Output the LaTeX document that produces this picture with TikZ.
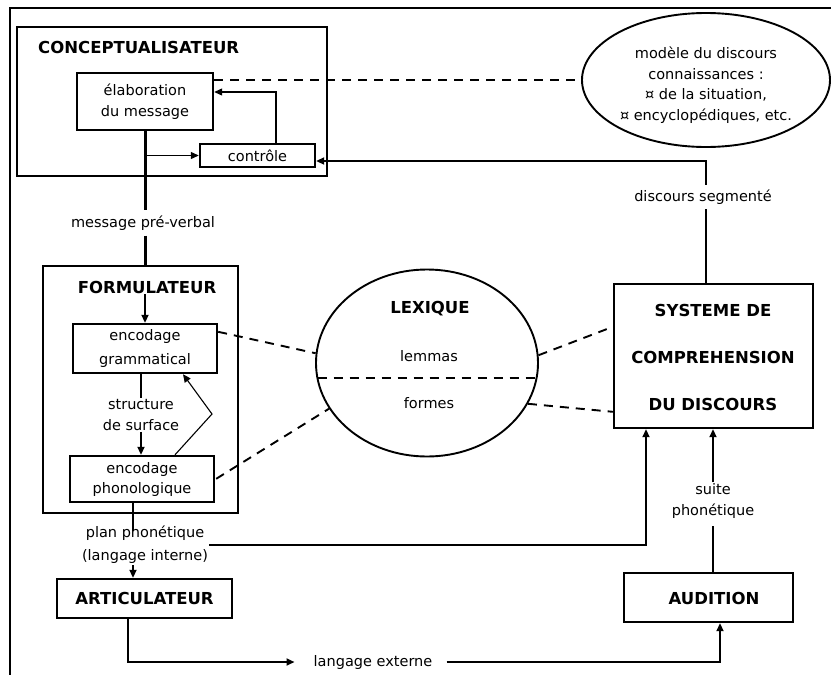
\documentclass[tikz,border=0pt]{standalone}
\usepackage{fontspec}
\setmainfont{DejaVu Sans}
\usetikzlibrary{arrows.meta,shapes.geometric,calc}
\begin{document}
\begin{tikzpicture}[x=1pt,y=-1pt,
  box/.style={draw, line width=2.4pt, rectangle, inner sep=0pt},
  txt/.style={font=\fontsize{14.5}{21}\selectfont, align=center, inner sep=1pt},
  ttl/.style={font=\bfseries\fontsize{16.5}{24}\selectfont, inner sep=1pt},
  conn/.style={line width=1.9pt},
  thinconn/.style={line width=1.1pt},
  dsh/.style={line width=1.9pt, dash pattern=on 9pt off 7pt},
  arr/.style={-{Triangle[length=8pt,width=7pt]}}]
\useasboundingbox (0,0) rectangle (831,675);
% frame
\draw[line width=1.3pt] (10,675) -- (10,8) -- (831,8);

% conceptualisateur
\node[box, minimum width=310pt, minimum height=149pt] (concept) at (172,101.5) {};
\node[ttl, anchor=west] (ctitle) at (37,47) {CONCEPTUALISATEUR};
\node[box, txt, minimum width=136pt, minimum height=57pt] (elab) at (145,101.5) {élaboration\\du message};
\node[box, txt, minimum width=115pt, minimum height=23pt] (ctrl) at (257.5,155.5) {contrôle};

% modele ellipse
\node[draw, ellipse, line width=1.9pt, minimum width=248pt, minimum height=134pt, inner sep=0pt] (ell) at (706,80) {};
\node[txt, font=\fontsize{14.5}{20.5}\selectfont] (elltxt) at (706,85) {modèle du discours\\connaissances :\\¤ de la situation,\\¤ encyclopédiques, etc.};

% formulateur
\node[box, minimum width=195pt, minimum height=247pt] (formul) at (140.5,389.5) {};
\node[ttl] (ftitle) at (147,287) {FORMULATEUR};
\node[box, txt, font=\fontsize{14.5}{24}\selectfont, minimum width=144pt, minimum height=49pt] (gram) at (145,348.5) {encodage\\grammatical};
\node[txt] (struct) at (141,415) {structure\\de surface};
\node[box, txt, font=\fontsize{14.5}{20}\selectfont, minimum width=144pt, minimum height=46pt] (phon) at (142,479) {encodage\\phonologique};

% lexique
\node[draw, ellipse, line width=1.9pt, minimum width=222pt, minimum height=187pt, inner sep=0pt] (lex) at (427,363) {};
\node[ttl] (lextitle) at (430,309) {LEXIQUE};
\node[txt] (lemmas) at (429,356) {lemmas};
\node[txt] (formes) at (429,403) {formes};
\draw[dsh] ($(lex.center)+(-109.5,15)$) -- ($(lex.center)+(109.5,15)$);

% systeme
\node[box, minimum width=199pt, minimum height=144pt] (sys) at (713.5,356) {};
\node[ttl, align=center, font=\bfseries\fontsize{16.5}{47}\selectfont] (systxt) at (713,357) {SYSTEME DE\\COMPREHENSION\\DU DISCOURS};

% articulateur, audition
\node[box, ttl, minimum width=175pt, minimum height=39pt] (artic) at (144.5,598.5) {ARTICULATEUR};
\node[box, minimum width=169pt, minimum height=49pt] (aud) at (708.5,597.5) {};
\node[ttl] (audtxt) at (714,598) {AUDITION};

% labels
\node[txt, inner ysep=5pt] (msg) at (143,223) {message pré-verbal};
\node[txt, align=center, font=\fontsize{14.5}{23}\selectfont] (plan) at (145,545) {plan phonétique\\(langage interne)};
\node[txt] (lext) at (373,662) {langage externe};
\node[txt] (suite) at (713,501) {suite\\phonétique};

% coordinates
\coordinate (cfb) at (276,92);
\coordinate (segcorner) at (706,161);
\coordinate (fb) at (212,414);
\coordinate (px) at (133,0);
\coordinate (sx) at (646,0);
\coordinate (ax) at (128,0);
\coordinate (bx) at (720,0);
\coordinate (ux) at (713,0);

% conceptualisateur connectors
\draw[line width=3pt] (elab.south) -- (msg.north -| elab.south);
\draw[line width=3pt] (msg.south -| elab.south) -- (elab.south |- formul.north);
\draw[thinconn, arr] (elab.south |- ctrl.west) -- (ctrl.west);
\draw[thinconn, arr] (ctrl.north -| cfb) -- (cfb) -- (cfb -| elab.east);
\draw[dsh] (elab.east |- ell.west) -- (ell.west);
\draw[conn, arr] (sys.north -| segcorner) -- (segcorner) -- (segcorner -| ctrl.east);
\node[txt, fill=white, inner ysep=5pt] (seg) at (703,197) {discours segmenté};

% formulateur connectors
\draw[conn, arr] (ftitle.south -| gram.north) -- (gram.north);
\draw[conn] (struct.north |- gram.south) -- (struct.north);
\draw[conn, arr] (struct.south) -- (struct.south |- phon.north);
\draw[thinconn, arr] ($(phon.north)+(33,0)$) -- (fb) -- ($(gram.south)+(38,0)$);

% lexique dashed
\draw[dsh] ($(gram.north east)+(0,9)$) -- (lex.175.8);
\draw[dsh] ($(phon.north east)+(1,24)$) -- (lex.205.4);
\draw[dsh] (lex.4) -- ($(sys.north west)+(0,44)$);
\draw[dsh] (lex.338.6) -- ($(sys.north west)+(0,129)$);

% lower connectors
\draw[conn] (phon.south -| px) -- ($(plan.north -| px)+(0,6)$);
\draw[conn, arr] (plan.south -| px) -- (artic.north -| px);
\draw[conn, arr] (plan.east) -| (sys.south -| sx);
\draw[conn, arr] (artic.south -| ax) |- ($(lext.west)+(-18,0)$);
\draw[conn, arr] ($(lext.east)+(13,0)$) -| (aud.south -| bx);
\draw[conn] (aud.north -| ux) -- ($(suite.south -| ux)+(0,6)$);
\draw[conn, arr] (suite.north -| ux) -- (sys.south -| ux);
\end{tikzpicture}
\end{document}
